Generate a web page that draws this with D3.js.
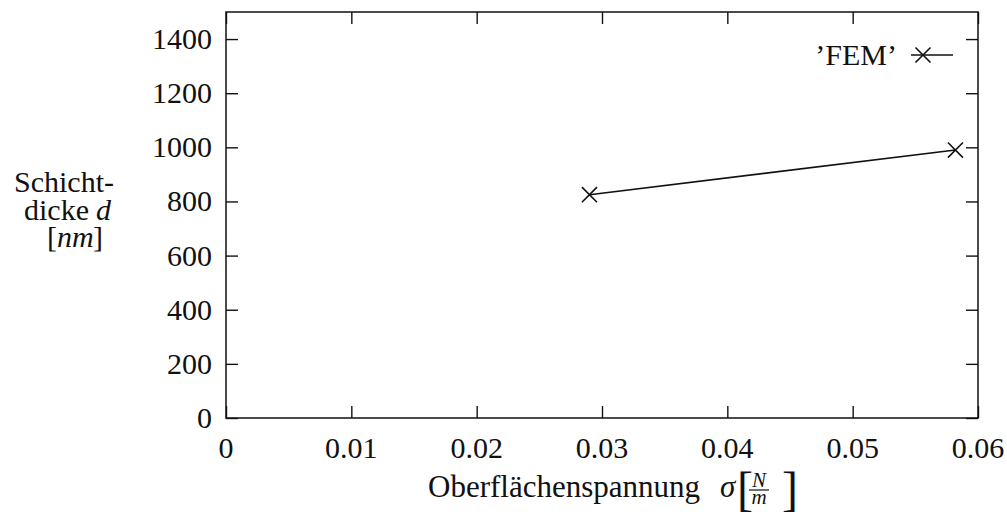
<!DOCTYPE html>
<html>
<body style="margin:0">
	<div id="chart"></div>

	<script src="https://d3js.org/d3.v7.min.js"></script>
	<script>
		var w = 1007;
		var h = 514;

		// data
		var sigma = [0.029, 0.0582];
		var thickness = [825, 990];
		var xTicks = [0, 0.01, 0.02, 0.03, 0.04, 0.05, 0.06];
		var yTicks = [0, 200, 400, 600, 800, 1000, 1200, 1400];
		var seriesName = "\u2019FEM\u2019";

		var fontFam = "'Liberation Serif', monospace";
		var mLeft = 226, mRight = 978, mTop = 12, mBottom = 418;
		var tickLen = 12;

		var svg = d3.select("#chart").append("svg")
			.attr("width", w)
			.attr("height", h);

		var XScale = d3.scaleLinear().domain([0, 0.06]).range([mLeft, mRight]);
		var YScale = d3.scaleLinear().domain([0, 1500]).range([mBottom, mTop]);

		function label(x, y, size, txt, italic) {
			var t = svg.append("text").attr("x", x).attr("y", y)
				.attr("font-size", size)
				.style("font-family", fontFam)
				.attr("fill", "#111");
			if (italic) t.attr("font-style", "italic");
			return t.text(txt);
		}

		/* ticks pointing inwards on all four sides */
		var axes = [
			[d3.axisBottom(XScale).tickValues(xTicks), "translate(0," + mBottom + ")"],
			[d3.axisTop(XScale).tickValues(xTicks), "translate(0," + mTop + ")"],
			[d3.axisLeft(YScale).tickValues(yTicks), "translate(" + mLeft + ",0)"],
			[d3.axisRight(YScale).tickValues(yTicks), "translate(" + mRight + ",0)"]
		];
		axes.forEach(function(a){
			svg.append("g").attr("transform", a[1])
				.call(a[0].tickSize(-tickLen).tickFormat(""));
		});
		svg.selectAll(".domain").remove();
		svg.selectAll(".tick text").remove();
		svg.selectAll(".tick line").attr("stroke", "#111").attr("stroke-width", 1.4);

		/* tick labels */
		xTicks.forEach(function(t){
			label(XScale(t), mBottom + 40, 30, t === 0 ? "0" : d3.format(".2f")(t))
				.attr("text-anchor", "middle");
		});
		yTicks.forEach(function(t){
			label(mLeft - 14, YScale(t) + 10, 30, d3.format("d")(t))
				.attr("text-anchor", "end");
		});

		/* frame */
		svg.append("rect")
			.attr("x", mLeft).attr("y", mTop)
			.attr("width", mRight - mLeft).attr("height", mBottom - mTop)
			.attr("fill", "none").attr("stroke", "#111").attr("stroke-width", 1.5);

		/* data line and markers */
		var pts = sigma.map(function(s, i){ return [s, thickness[i]]; });
		var line = d3.line()
			.x(function(d){ return XScale(d[0]); })
			.y(function(d){ return YScale(d[1]); });

		svg.append("path").datum(pts)
			.attr("d", line)
			.attr("fill", "none").attr("stroke", "#111").attr("stroke-width", 1.6);

		var cross = d3.symbol().type(d3.symbolX).size(150);
		svg.selectAll("path.pt").data(pts).enter().append("path")
			.attr("class", "pt")
			.attr("d", cross)
			.attr("transform", function(d){ return "translate(" + XScale(d[0]) + "," + YScale(d[1]) + ")"; })
			.attr("fill", "none").attr("stroke", "#111").attr("stroke-width", 1.6);

		/* legend */
		var legY = 55;
		label(897, legY + 10, 30, seriesName).attr("text-anchor", "end");
		svg.append("line").attr("x1", 911).attr("x2", 953).attr("y1", legY).attr("y2", legY)
			.attr("stroke", "#111").attr("stroke-width", 1.6);
		svg.append("path").attr("d", cross)
			.attr("transform", "translate(923," + legY + ")")
			.attr("fill", "none").attr("stroke", "#111").attr("stroke-width", 1.6);

		/* y axis label, three lines */
		label(64, 192, 30, "Schicht-").attr("text-anchor", "middle");
		label(24, 220, 30, "dicke");
		label(96, 220, 30, "d", true);
		label(47, 247, 30, "[");
		label(57, 247, 30, "nm", true);
		label(93, 247, 30, "]");

		/* x axis label */
		label(428, 497, 31, "Oberfl\u00e4chenspannung");
		label(720, 497, 31, "\u03c3", true);
		label(737, 505, 48, "[");
		label(782, 505, 48, "]");
		label(759, 487, 21, "N", true).attr("text-anchor", "middle");
		svg.append("line").attr("x1", 749).attr("x2", 769).attr("y1", 490).attr("y2", 490)
			.attr("stroke", "#111").attr("stroke-width", 1.2);
		label(759, 504, 21, "m", true).attr("text-anchor", "middle");
	</script>
</body>
</html>
